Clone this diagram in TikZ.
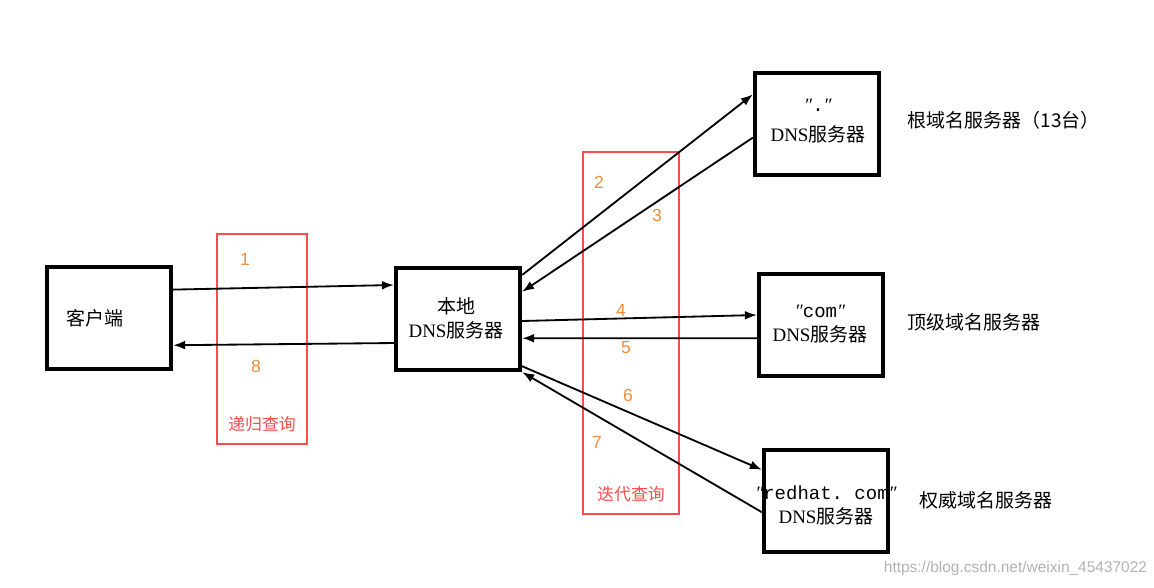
\documentclass[tikz,border=0pt]{standalone}
\usepackage{fontspec}
\setmainfont{Liberation Serif}
\setsansfont{Liberation Sans}
\setmonofont{Liberation Mono}
\newfontfamily\cjk{Noto Sans CJK SC}
\usepackage{xcolor}
\usetikzlibrary{arrows.meta, positioning, calc}
\definecolor{queryred}{RGB}{255,75,75}
\definecolor{steporange}{RGB}{240,140,60}

\begin{document}
\begin{tikzpicture}[
  x=0.025cm, y=-0.025cm,
  >={Latex[length=3mm, width=2.2mm]},
  every node/.style={font=\fontsize{13.5pt}{17pt}\selectfont},
  host/.style={rectangle, draw=black, line width=3pt,
    minimum width=3.1cm, minimum height=2.55cm},
  hosttext/.style={align=center, inner sep=0pt},
  zonetext/.style={anchor=west, font=\fontsize{13.5pt}{17pt}\selectfont\cjk},
  querybox/.style={rectangle, draw=queryred, line width=1.3pt},
  querytext/.style={text=queryred, font=\fontsize{12pt}{14pt}\selectfont\cjk},
  stepnum/.style={text=steporange, font=\fontsize{12.5pt}{14pt}\selectfont\sffamily},
  msg/.style={->, line width=1.3pt, draw=black}
]
  \useasboundingbox (0,0) rectangle (1154,587);

  % Hosts
  \node[host] (client) at (109,318) {};
  \node[hosttext] (clienttxt) at (95,318) {\cjk 客户端};
  \node[host] (local) at (458,319) {};
  \node[hosttext] (localtxt) at (456,318) {\cjk 本地\\DNS{\cjk 服务器}};

  % Servers on the right
  \node[host] (root) at (817,124) {};
  \node[hosttext] (roottxt) at (818,121) {\textit{″}\texttt{.}\textit{″}\\[4pt]DNS{\cjk 服务器}};
  \node[host] (com) at (821,325) {};
  \node[hosttext] (comtxt) at (820,324) {\textit{″}\texttt{com}\textit{″}\\DNS{\cjk 服务器}};
  \node[host] (redhat) at (826,501) {};
  \node[hosttext] (redhattxt) at (826,505) {\textit{″}\texttt{redhat.\ com}\textit{″}\\DNS{\cjk 服务器}};

  \node[zonetext] (rootname) at (903,120) {根域名服务器（13台）};
  \node[zonetext] (comname) at (903,322) {顶级域名服务器};
  \node[zonetext] (authname) at (915,500) {权威域名服务器};

  % Query zones
  \node[querybox, minimum width=2.25cm, minimum height=5.25cm] (recursive) at (262,339) {};
  \node[querytext] (recursivetxt) at (262,424) {递归查询};
  \node[querybox, minimum width=2.38cm, minimum height=9.05cm] (iterative) at (631,333) {};
  \node[querytext] (iterativetxt) at (631,494) {迭代查询};

  % Messages
  \draw[msg] ([yshift=0.71cm]client.east) -- ([yshift=0.85cm]local.west);
  \draw[msg] ([yshift=-0.6cm]local.west) -- ([yshift=-0.68cm]client.east);
  \draw[msg] ([yshift=1.1cm]local.east) -- ([yshift=0.74cm]root.west);
  \draw[msg] ([yshift=-0.34cm]root.west) -- ([yshift=0.68cm]local.east);
  \draw[msg] ([yshift=-0.05cm]local.east) -- ([yshift=0.25cm]com.west);
  \draw[msg] ([yshift=-0.33cm]com.west) -- ([yshift=-0.48cm]local.east);
  \draw[msg] ([yshift=-1.18cm]local.east) -- ([yshift=0.78cm]redhat.west);
  \draw[msg] ([yshift=-0.28cm]redhat.west) -- (local.south east);

  % Step numbers
  \node[stepnum] (n1) at (245,259) {1};
  \node[stepnum] (n8) at (256,366) {8};
  \node[stepnum] (n2) at (599,182) {2};
  \node[stepnum] (n3) at (657,215) {3};
  \node[stepnum] (n4) at (621,310) {4};
  \node[stepnum] (n5) at (626,348) {5};
  \node[stepnum] (n6) at (628,395) {6};
  \node[stepnum] (n7) at (597,442) {7};

  \node[anchor=east, text=black!30, font=\fontsize{11pt}{13pt}\selectfont\sffamily] (mark) at (1152,568) {https://blog.csdn.net/weixin\_45437022};
\end{tikzpicture}
\end{document}
